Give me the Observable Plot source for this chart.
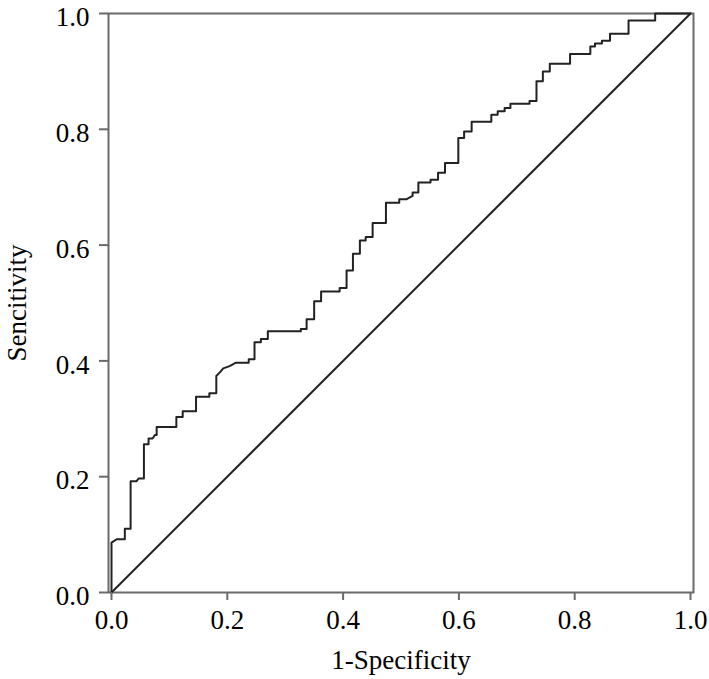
<!DOCTYPE html>
<html>
<head>
<meta charset="utf-8">
<script src="https://cdn.jsdelivr.net/npm/d3@7"></script>
<script src="https://cdn.jsdelivr.net/npm/@observablehq/plot@0.6"></script>
<style>
  html, body { margin: 0; padding: 0; background: #fff; }
</style>
</head>
<body>
<div id="chart"></div>
<script>
// ROC curve vertices (1-Specificity, Sensitivity)
const fpr = [0, 0, 0.009, 0.023, 0.023, 0.033, 0.033, 0.043, 0.047, 0.056, 0.056, 0.064, 0.064, 0.071, 0.075, 0.078, 0.078,
  0.112, 0.112, 0.123, 0.123, 0.146, 0.146, 0.169, 0.169, 0.181, 0.181, 0.188, 0.193, 0.204, 0.215, 0.237, 0.237, 0.247, 0.247,
  0.258, 0.258, 0.270, 0.270, 0.327, 0.327, 0.337, 0.337, 0.350, 0.350, 0.362, 0.362, 0.394, 0.394, 0.406, 0.406, 0.417, 0.417,
  0.429, 0.429, 0.439, 0.439, 0.451, 0.451, 0.474, 0.474, 0.497, 0.497, 0.509, 0.520, 0.520, 0.530, 0.530, 0.551, 0.551, 0.564,
  0.564, 0.576, 0.576, 0.599, 0.599, 0.609, 0.609, 0.622, 0.622, 0.656, 0.656, 0.667, 0.667, 0.679, 0.679, 0.689, 0.689, 0.722,
  0.722, 0.734, 0.734, 0.745, 0.745, 0.757, 0.757, 0.792, 0.792, 0.827, 0.827, 0.835, 0.835, 0.847, 0.847, 0.861, 0.861, 0.893,
  0.893, 0.939, 0.939, 1];
const tpr = [0, 0.086, 0.092, 0.092, 0.110, 0.110, 0.192, 0.192, 0.197, 0.197, 0.256, 0.256, 0.266, 0.266, 0.272, 0.272, 0.286,
  0.286, 0.303, 0.303, 0.313, 0.313, 0.338, 0.338, 0.344, 0.344, 0.374, 0.381, 0.387, 0.391, 0.397, 0.397, 0.403, 0.403, 0.432,
  0.432, 0.438, 0.438, 0.451, 0.451, 0.455, 0.455, 0.472, 0.472, 0.503, 0.503, 0.520, 0.520, 0.526, 0.526, 0.556, 0.556, 0.585,
  0.585, 0.608, 0.608, 0.614, 0.614, 0.638, 0.638, 0.673, 0.673, 0.679, 0.679, 0.685, 0.691, 0.691, 0.708, 0.708, 0.713, 0.713,
  0.725, 0.725, 0.742, 0.742, 0.785, 0.785, 0.796, 0.796, 0.813, 0.813, 0.825, 0.825, 0.831, 0.831, 0.837, 0.837, 0.844, 0.844,
  0.849, 0.849, 0.883, 0.883, 0.900, 0.900, 0.913, 0.913, 0.930, 0.930, 0.943, 0.943, 0.948, 0.948, 0.953, 0.953, 0.965, 0.965,
  0.988, 0.988, 1.0, 1.0];
// reference (chance) line
const refX = [0, 1];
const refY = [0, 1];
// axis ticks and titles
const tickValues = [0, 0.2, 0.4, 0.6, 0.8, 1.0];
const xTitle = "1-Specificity";
const yTitle = "Sencitivity";

const roc = fpr.map((x, i) => ({x, y: tpr[i]}));
const diag = refX.map((x, i) => ({x, y: refY[i]}));
const serif = "Liberation Serif";

const chart = Plot.plot({
  width: 709,
  height: 679,
  marginLeft: 108,
  marginRight: 16,
  marginTop: 13,
  marginBottom: 87,
  style: {fontFamily: serif, fontSize: "27px", color: "#000", background: "#fff"},
  x: {domain: [0, 1], insetLeft: 3, insetRight: 3},
  y: {domain: [0, 1]},
  marks: [
    Plot.frame({stroke: "#6a6a6a", strokeWidth: 2}),
    Plot.line(diag, {x: "x", y: "y", stroke: "#222", strokeWidth: 2}),
    Plot.line(roc, {x: "x", y: "y", stroke: "#222", strokeWidth: 2}),
    Plot.axisX({ticks: tickValues, tickFormat: d3.format(".1f"), tickSize: 8, tickPadding: 9,
      stroke: "#6a6a6a", strokeWidth: 2, fill: "#000", fontSize: 27, fontFamily: serif,
      label: xTitle, labelAnchor: "center", labelArrow: "none", labelOffset: 76}),
    // y tick marks only
    Plot.axisY({ticks: tickValues, tickFormat: () => "", tickSize: 9,
      stroke: "#6a6a6a", strokeWidth: 2, label: null}),
    // y tick labels and title
    Plot.axisY({ticks: tickValues, tickFormat: d3.format(".1f"), tickSize: 0, tickPadding: 19,
      fill: "#000", fontSize: 27, fontFamily: serif, dy: 4,
      label: yTitle, labelAnchor: "center", labelArrow: "none", labelOffset: 102})
  ]
});
document.getElementById("chart").appendChild(chart);
</script>
</body>
</html>
